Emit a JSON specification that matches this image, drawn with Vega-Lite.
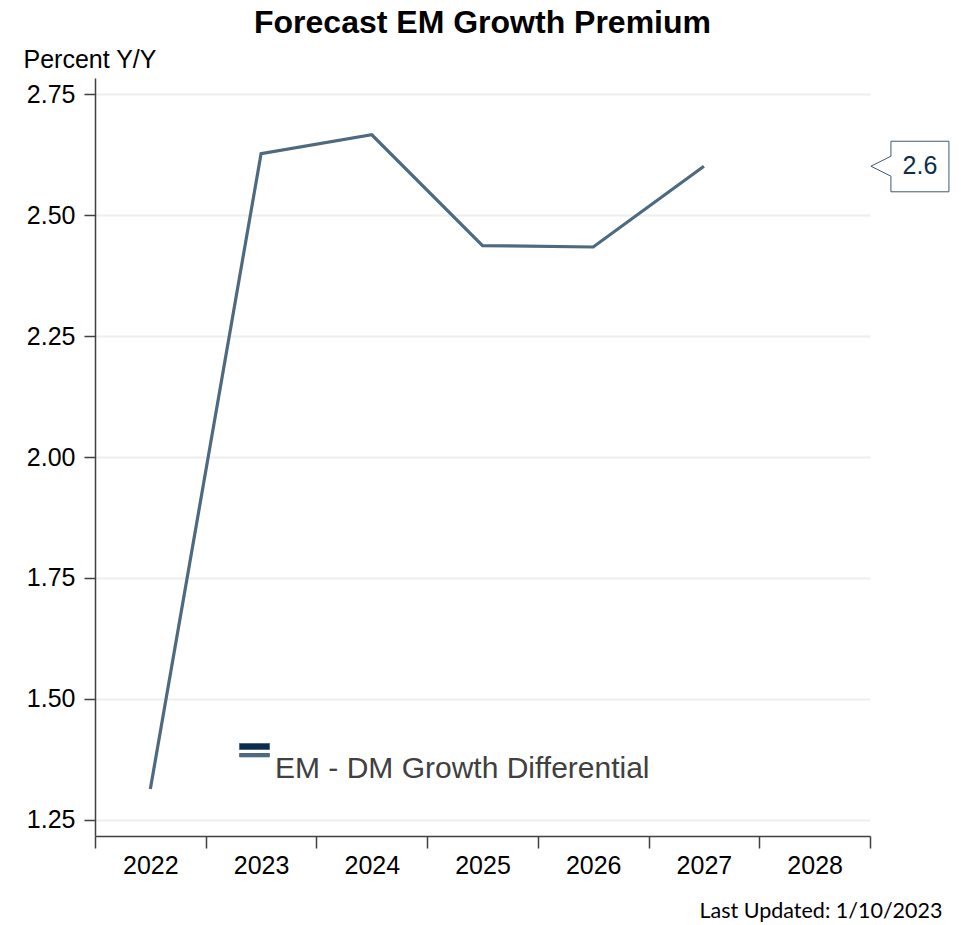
{
  "$schema": "https://vega.github.io/schema/vega-lite/v6.json",
  "autosize": "none",
  "width": 775,
  "height": 758,
  "padding": {"left": 95, "top": 78, "right": 91, "bottom": 89},
  "background": "white",
  "config": {
    "font": "Liberation Sans",
    "view": {"stroke": null}
  },
  "title": {
    "text": "Forecast EM Growth Premium",
    "fontSize": 32,
    "fontWeight": "bold",
    "font": "Liberation Sans",
    "color": "#000000",
    "anchor": "middle",
    "baseline": "alphabetic",
    "offset": 0,
    "dy": 18
  },
  "data": {
    "values": [
      {"year": "2022", "value": 1.314},
      {"year": "2023", "value": 2.627},
      {"year": "2024", "value": 2.666},
      {"year": "2025", "value": 2.437},
      {"year": "2026", "value": 2.434},
      {"year": "2027", "value": 2.601}
    ]
  },
  "encoding": {
    "x": {
      "field": "year",
      "type": "ordinal",
      "scale": {"domain": ["2022", "2023", "2024", "2025", "2026", "2027", "2028"], "paddingInner": 0, "paddingOuter": 0},
      "axis": {
        "title": "Last Updated: 1/10/2023",
        "titleFont": "Lato",
        "titleFontSize": 21.5,
        "titleFontWeight": "normal",
        "titleColor": "#000000",
        "titleAlign": "right",
        "titleAnchor": null,
        "titleBaseline": "alphabetic",
        "titleX": 847,
        "titleY": 81,
        "labelAngle": 0,
        "labelFontSize": 25,
        "labelColor": "#000000",
        "labelPadding": 5,
        "tickBand": "extent",
        "tickSize": 12,
        "tickColor": "#404040",
        "tickWidth": 1.5,
        "domainColor": "#404040",
        "domainWidth": 1.5,
        "grid": false
      }
    },
    "y": {
      "field": "value",
      "type": "quantitative",
      "scale": {"domain": [1.2167, 2.7833], "nice": false, "zero": false},
      "axis": {
        "values": [1.25, 1.5, 1.75, 2.0, 2.25, 2.5, 2.75],
        "format": ".2f",
        "title": "Percent Y/Y",
        "titleAngle": 0,
        "titleAlign": "left",
        "titleBaseline": "alphabetic",
        "titleAnchor": null,
        "titleX": -72,
        "titleY": -11,
        "titleFontSize": 25,
        "titleFontWeight": "normal",
        "titleColor": "#000000",
        "labelFontSize": 25,
        "labelColor": "#000000",
        "labelPadding": 9,
        "tickSize": 11,
        "tickColor": "#404040",
        "tickWidth": 1.5,
        "domainColor": "#404040",
        "domainWidth": 1.5,
        "grid": true,
        "gridColor": "#eeeeee",
        "gridWidth": 2
      }
    }
  },
  "layer": [
    {
      "mark": {"type": "line", "strokeWidth": 3.2, "strokeCap": "butt"},
      "encoding": {
        "color": {
          "datum": "EM - DM Growth Differential",
          "type": "nominal",
          "scale": {"range": ["#4e6a80"]},
          "legend": {
            "title": null,
            "orient": "none",
            "legendX": 144,
            "legendY": 663,
            "padding": 0,
            "labelFontSize": 30,
            "labelColor": "#404040",
            "labelBaseline": "top",
            "labelOffset": 5,
            "labelLimit": 600,
            "symbolSize": 900,
            "symbolType": "M -1 -0.867 L 1 -0.867 L 1 -0.467 L -1 -0.467 Z M -1 -0.2 L 1 -0.2 M -1 -0.18 L 1 -0.18 M -1 -0.16 L 1 -0.16 M -1 -0.14 L 1 -0.14 M -1 -0.12 L 1 -0.12 M -1 -0.1 L 1 -0.1 M -1 -0.08 L 1 -0.08 M -1 -0.06 L 1 -0.06 M -1 -0.04 L 1 -0.04 M -1 -0.02 L 1 -0.02 M -1 0 L 1 0 M -1 0.02 L 1 0.02",
            "encode": {
              "labels": {
                "update": {"dy": {"value": -3}}
              },
              "symbols": {
                "update": {
                  "fill": {"value": "#0b2e4f"},
                  "stroke": {"value": "#4e6a80"},
                  "strokeWidth": {"value": 1},
                  "opacity": {"value": 1}
                }
              }
            }
          }
        }
      }
    },
    {
      "transform": [{"filter": "datum.year == '2027'"}],
      "mark": {
        "type": "point",
        "shape": "M -1 0 L -0.487 -0.256 L -0.487 -0.64 L 1 -0.64 L 1 0.656 L -0.487 0.656 L -0.487 0.256 Z",
        "size": 6084,
        "filled": true,
        "fill": "#ffffff",
        "stroke": "#3e5a70",
        "strokeWidth": 1,
        "opacity": 1,
        "xOffset": 206
      }
    },
    {
      "transform": [{"filter": "datum.year == '2027'"}],
      "mark": {
        "type": "text",
        "fontSize": 25,
        "color": "#0d2d4a",
        "align": "center",
        "baseline": "middle",
        "xOffset": 216
      },
      "encoding": {
        "text": {"field": "value", "type": "quantitative", "format": ".1f"}
      }
    }
  ]
}
